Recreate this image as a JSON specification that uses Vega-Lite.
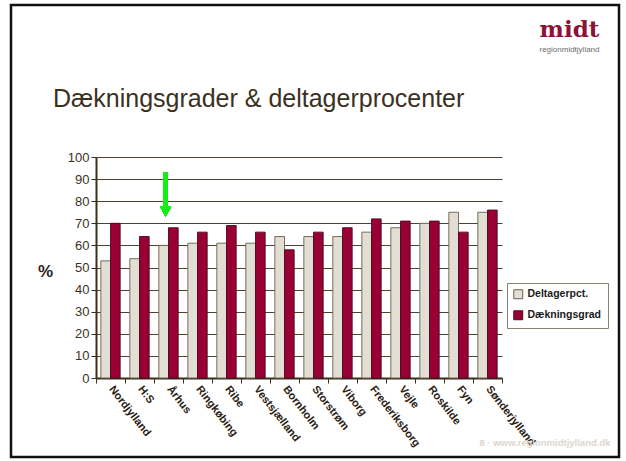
{
  "$schema": "https://vega.github.io/schema/vega-lite/v6.json",
  "width": 608,
  "height": 452,
  "autosize": {"type": "none"},
  "padding": {"left": 11, "top": 5, "right": 7, "bottom": 4},
  "background": "white",
  "title": {
    "text": "Dækningsgrader & deltagerprocenter",
    "anchor": "start",
    "frame": "group",
    "dx": 42,
    "offset": -127,
    "baseline": "alphabetic",
    "font": "Liberation Sans",
    "fontSize": 25,
    "fontWeight": "normal",
    "color": "#3b3120"
  },
  "config": {
    "view": {"stroke": "#111111", "strokeWidth": 2.5}
  },
  "datasets": {
    "main": [
      {"region": "Nordjylland", "series": "Deltagerpct.", "value": 53},
      {"region": "Nordjylland", "series": "Dækningsgrad", "value": 70},
      {"region": "H:S", "series": "Deltagerpct.", "value": 54},
      {"region": "H:S", "series": "Dækningsgrad", "value": 64},
      {"region": "Århus", "series": "Deltagerpct.", "value": 60},
      {"region": "Århus", "series": "Dækningsgrad", "value": 68},
      {"region": "Ringkøbing", "series": "Deltagerpct.", "value": 61},
      {"region": "Ringkøbing", "series": "Dækningsgrad", "value": 66},
      {"region": "Ribe", "series": "Deltagerpct.", "value": 61},
      {"region": "Ribe", "series": "Dækningsgrad", "value": 69},
      {"region": "Vestsjælland", "series": "Deltagerpct.", "value": 61},
      {"region": "Vestsjælland", "series": "Dækningsgrad", "value": 66},
      {"region": "Bornholm", "series": "Deltagerpct.", "value": 64},
      {"region": "Bornholm", "series": "Dækningsgrad", "value": 58},
      {"region": "Storstrøm", "series": "Deltagerpct.", "value": 64},
      {"region": "Storstrøm", "series": "Dækningsgrad", "value": 66},
      {"region": "Viborg", "series": "Deltagerpct.", "value": 64},
      {"region": "Viborg", "series": "Dækningsgrad", "value": 68},
      {"region": "Frederiksborg", "series": "Deltagerpct.", "value": 66},
      {"region": "Frederiksborg", "series": "Dækningsgrad", "value": 72},
      {"region": "Vejle", "series": "Deltagerpct.", "value": 68},
      {"region": "Vejle", "series": "Dækningsgrad", "value": 71},
      {"region": "Roskilde", "series": "Deltagerpct.", "value": 70},
      {"region": "Roskilde", "series": "Dækningsgrad", "value": 71},
      {"region": "Fyn", "series": "Deltagerpct.", "value": 75},
      {"region": "Fyn", "series": "Dækningsgrad", "value": 66},
      {"region": "Sønderjylland", "series": "Deltagerpct.", "value": 75},
      {"region": "Sønderjylland", "series": "Dækningsgrad", "value": 76}
    ]
  },
  "layer": [
    {
      "data": {"name": "main"},
      "layer": [
        {
          "mark": {"type": "bar", "strokeWidth": 0.9},
          "encoding": {
            "x": {
              "field": "region",
              "type": "nominal",
              "sort": null,
              "scale": {"range": [85, 491], "paddingInner": 0, "paddingOuter": 0},
              "axis": {
                "title": "8 · www.regionmidtjylland.dk",
                "offset": -79,
                "labelAngle": 52,
                "labelAlign": "left",
                "labelBaseline": "middle",
                "labelFont": "Liberation Sans",
                "labelFontWeight": "bold",
                "labelFontSize": 11,
                "labelColor": "#2b2113",
                "labelPadding": 4,
                "tickBand": "extent",
                "tickSize": 5,
                "tickColor": "#3a2e1c",
                "domainColor": "#3a2e1c",
                "domainWidth": 2,
                "grid": false,
                "titleX": 599,
                "titleY": 67,
                "titleAlign": "right",
                "titleBaseline": "alphabetic",
                "titleAngle": 0,
                "titleFont": "Liberation Sans",
                "titleFontSize": 9.5,
                "titleFontWeight": "bold",
                "titleColor": "#ddd6cc"
              }
            },
            "xOffset": {
              "field": "series",
              "type": "nominal",
              "sort": ["Deltagerpct.", "Dækningsgrad"],
              "scale": {"paddingOuter": 0.5, "paddingInner": 0}
            },
            "y": {
              "field": "value",
              "type": "quantitative",
              "scale": {"domain": [0, 100], "range": [373, 152], "nice": false},
              "axis": {
                "title": "%",
                "offset": -85,
                "values": [0, 10, 20, 30, 40, 50, 60, 70, 80, 90, 100],
                "grid": true,
                "gridColor": "#4f412d",
                "gridWidth": 1.2,
                "domainColor": "#3a2e1c",
                "domainWidth": 2,
                "tickColor": "#3a2e1c",
                "tickSize": 5,
                "labelFont": "Liberation Sans",
                "labelFontSize": 13,
                "labelColor": "#3c3222",
                "labelPadding": 2,
                "titleAngle": 0,
                "titleX": -51,
                "titleY": 266,
                "titleAlign": "center",
                "titleBaseline": "middle",
                "titleFont": "Liberation Sans",
                "titleFontSize": 17,
                "titleFontWeight": "bold",
                "titleColor": "#2a2218"
              }
            },
            "color": {
              "field": "series",
              "type": "nominal",
              "scale": {"domain": ["Deltagerpct.", "Dækningsgrad"], "range": ["#e3ded3", "#990033"]},
              "legend": {
                "title": null,
                "orient": "none",
                "legendX": 496,
                "legendY": 278,
                "symbolType": "square",
                "symbolSize": 80,
                "symbolStrokeWidth": 1,
                "labelFont": "Liberation Sans",
                "labelFontWeight": "bold",
                "labelFontSize": 10.5,
                "labelColor": "#1a1a1a",
                "strokeColor": "#8c8270",
                "fillColor": "white",
                "padding": 6,
                "rowPadding": 7
              }
            },
            "stroke": {
              "field": "series",
              "type": "nominal",
              "scale": {"domain": ["Deltagerpct.", "Dækningsgrad"], "range": ["#6b5e4c", "#4a0a1f"]},
              "legend": {
                "title": null,
                "orient": "none",
                "legendX": 496,
                "legendY": 278,
                "symbolType": "square",
                "symbolSize": 80,
                "symbolStrokeWidth": 1,
                "labelFont": "Liberation Sans",
                "labelFontWeight": "bold",
                "labelFontSize": 10.5,
                "labelColor": "#1a1a1a",
                "strokeColor": "#8c8270",
                "fillColor": "white",
                "padding": 6,
                "rowPadding": 7
              }
            }
          }
        },
        {
          "mark": {"type": "rule", "color": "#14ee14", "strokeWidth": 3.5},
          "encoding": {
            "x": {"datum": "Århus", "bandPosition": 0.4},
            "y": {"datum": 93},
            "y2": {"datum": 77.5}
          }
        },
        {
          "mark": {"type": "point", "shape": "M-1,-0.9L1,-0.9L0,0.9Z", "filled": true, "color": "#14ee14", "size": 121, "opacity": 1, "strokeWidth": 0},
          "encoding": {
            "x": {"datum": "Århus", "bandPosition": 0.4},
            "y": {"datum": 75.3}
          }
        }
      ]
    },
    {
      "mark": {"type": "rule", "color": "#6b5e4c", "strokeWidth": 1.5},
      "encoding": {
        "x": {
          "datum": 1,
          "type": "quantitative",
          "scale": {"domain": [0, 1], "range": [85, 491]},
          "axis": {
            "orient": "top",
            "title": "regionmidtjylland",
            "labels": false,
            "ticks": false,
            "domain": false,
            "grid": false,
            "titleX": 558,
            "titleY": 46,
            "titleAlign": "center",
            "titleBaseline": "alphabetic",
            "titleFont": "Liberation Sans",
            "titleFontSize": 8,
            "titleFontWeight": "normal",
            "titleColor": "#6e6e6e"
          }
        },
        "y": {
          "datum": 0,
          "type": "quantitative",
          "scale": {"domain": [0, 100], "range": [373, 152], "nice": false},
          "axis": {
            "orient": "right",
            "title": "midt",
            "labels": false,
            "ticks": false,
            "domain": false,
            "grid": false,
            "titleAngle": 0,
            "titleX": -50,
            "titleY": 31,
            "titleAlign": "center",
            "titleBaseline": "alphabetic",
            "titleFont": "DejaVu Serif",
            "titleFontSize": 23,
            "titleFontWeight": "bold",
            "titleColor": "#8c1238"
          }
        },
        "y2": {"datum": 100}
      }
    }
  ],
  "resolve": {"scale": {"x": "independent", "y": "independent"}}
}
